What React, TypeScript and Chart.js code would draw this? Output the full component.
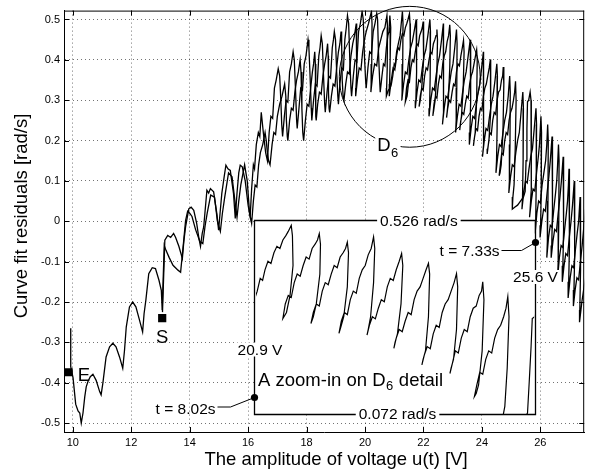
import React, { useEffect, useRef } from 'react';
import { Chart, registerables } from 'chart.js';

Chart.register(...registerables);

type Pt = [number, number];

const xTickValues = [10, 12, 14, 16, 18, 20, 22, 24, 26];
const xTickLabels = ['10', '12', '14', '16', '18', '20', '22', '24', '26'];
const yTickValues = [-0.5, -0.4, -0.3, -0.2, -0.1, 0, 0.1, 0.2, 0.3, 0.4, 0.5];
const yTickLabels = ['-0.5', '-0.4', '-0.3', '-0.2', '-0.1', '0', '0.1', '0.2', '0.3', '0.4', '0.5'];
const xLimits = [9.7, 27.5];
const yLimits = [-0.522, 0.522];
const xTitle = 'The amplitude of voltage u(t) [V]';
const yTitle = 'Curve fit residuals [rad/s]';

// forward pass (starts at S)
const forwardPass: Pt[] = [
  [13.07, -0.225], [13.15, -0.047], [13.25, -0.035], [13.35, -0.04], [13.45, -0.03], [13.52, -0.04], [13.63, -0.062], [13.75, -0.092],
  [13.8, -0.05], [13.86, -0.014], [13.97, 0.031], [14.05, 0.035], [14.14, 0.027], [14.24, -0.005], [14.31, -0.039], [14.37, -0.062],
  [14.43, -0.03], [14.48, -0.014], [14.59, 0.077], [14.65, 0.07], [14.71, 0.081], [14.82, 0.073], [14.93, 0.019], [14.99, -0.022],
  [15.04, 0.02], [15.1, 0.069], [15.18, 0.11], [15.24, 0.139], [15.31, 0.13], [15.39, 0.126], [15.5, 0.069], [15.56, 0.007],
  [15.62, 0.07], [15.68, 0.12], [15.73, 0.139], [15.8, 0.135], [15.9, 0.1], [16.0, 0.04], [16.07, 0.011],
  [16.12, 0.08], [16.18, 0.14], [16.22, 0.13], [16.28, 0.19], [16.35, 0.22], [16.4, 0.21], [16.45, 0.27], [16.52, 0.22], [16.6, 0.17], [16.66, 0.15],
  [16.72, 0.22], [16.78, 0.26], [16.84, 0.255], [16.9, 0.33], [16.96, 0.35], [17.03, 0.378], [17.08, 0.36], [17.12, 0.3], [17.15, 0.24], [17.18, 0.21],
  [17.24, 0.26], [17.3, 0.3], [17.36, 0.295], [17.42, 0.37], [17.48, 0.39], [17.54, 0.42], [17.58, 0.4], [17.62, 0.33], [17.66, 0.25], [17.68, 0.23],
  [17.74, 0.28], [17.8, 0.33], [17.86, 0.325], [17.92, 0.39], [17.98, 0.41], [18.05, 0.45], [18.08, 0.43], [18.12, 0.36], [18.16, 0.28], [18.18, 0.25],
  [18.24, 0.3], [18.3, 0.34], [18.36, 0.335], [18.42, 0.41], [18.46, 0.43], [18.5, 0.46], [18.54, 0.44], [18.58, 0.36], [18.62, 0.29], [18.64, 0.27],
  [18.7, 0.32], [18.76, 0.36], [18.82, 0.355], [18.88, 0.43], [18.92, 0.45], [18.95, 0.47], [18.99, 0.45], [19.03, 0.37], [19.07, 0.31], [19.09, 0.29],
  [19.14, 0.34], [19.2, 0.38], [19.26, 0.375], [19.31, 0.45], [19.36, 0.48], [19.4, 0.51], [19.44, 0.49], [19.48, 0.4], [19.52, 0.33], [19.54, 0.31],
  [19.6, 0.36], [19.66, 0.4], [19.72, 0.395], [19.78, 0.47], [19.84, 0.49], [19.9, 0.52], [19.94, 0.5], [19.98, 0.41], [20.02, 0.35], [20.04, 0.33],
  [20.1, 0.38], [20.16, 0.42], [20.22, 0.415], [20.28, 0.47], [20.34, 0.49], [20.4, 0.515], [20.43, 0.5], [20.46, 0.42], [20.5, 0.35], [20.52, 0.32],
  [20.58, 0.36], [20.63, 0.39], [20.68, 0.385], [20.73, 0.43], [20.78, 0.46], [20.82, 0.47], [20.85, 0.51], [20.88, 0.48], [20.86, 0.4], [20.84, 0.34], [20.83, 0.31],
  [20.9, 0.35], [20.96, 0.38], [21.02, 0.375], [21.08, 0.42], [21.14, 0.44], [21.2, 0.46], [21.24, 0.49], [21.28, 0.52], [21.3, 0.49], [21.29, 0.39], [21.27, 0.32], [21.26, 0.3],
  [21.32, 0.34], [21.38, 0.37], [21.44, 0.365], [21.5, 0.4], [21.56, 0.43], [21.62, 0.445], [21.68, 0.47], [21.75, 0.5], [21.77, 0.47], [21.76, 0.37], [21.74, 0.3], [21.72, 0.28],
  [21.78, 0.32], [21.84, 0.35], [21.9, 0.345], [21.96, 0.38], [22.02, 0.41], [22.08, 0.425], [22.15, 0.46], [22.22, 0.5], [22.24, 0.47], [22.23, 0.36], [22.21, 0.28], [22.19, 0.26],
  [22.25, 0.3], [22.31, 0.33], [22.37, 0.325], [22.43, 0.36], [22.49, 0.39], [22.55, 0.41], [22.62, 0.45], [22.68, 0.49], [22.7, 0.46], [22.69, 0.35], [22.67, 0.27], [22.65, 0.24],
  [22.71, 0.28], [22.77, 0.31], [22.83, 0.305], [22.89, 0.34], [22.95, 0.37], [23.01, 0.39], [23.07, 0.43], [23.13, 0.475], [23.15, 0.44], [23.14, 0.33], [23.12, 0.25], [23.1, 0.22],
  [23.16, 0.26], [23.22, 0.29], [23.28, 0.285], [23.34, 0.32], [23.4, 0.35], [23.46, 0.37], [23.53, 0.41], [23.6, 0.45], [23.62, 0.42], [23.61, 0.3], [23.59, 0.22], [23.57, 0.19],
  [23.63, 0.23], [23.69, 0.26], [23.75, 0.255], [23.81, 0.29], [23.87, 0.32], [23.93, 0.34], [23.99, 0.38], [24.05, 0.42], [24.07, 0.39], [24.06, 0.27], [24.04, 0.19], [24.02, 0.16],
  [24.08, 0.2], [24.14, 0.23], [24.2, 0.225], [24.26, 0.26], [24.32, 0.29], [24.38, 0.31], [24.45, 0.35], [24.51, 0.39], [24.53, 0.36], [24.52, 0.23], [24.5, 0.15], [24.48, 0.12],
  [24.54, 0.16], [24.6, 0.19], [24.66, 0.185], [24.72, 0.22], [24.78, 0.25], [24.84, 0.27], [24.9, 0.31], [24.95, 0.36], [24.97, 0.32], [24.96, 0.19], [24.94, 0.1], [24.92, 0.07],
  [24.98, 0.11], [25.04, 0.14], [25.1, 0.135], [25.16, 0.17], [25.22, 0.2], [25.28, 0.22], [25.34, 0.27], [25.4, 0.32], [25.42, 0.28], [25.41, 0.15], [25.39, 0.06], [25.37, 0.03],
  [25.43, 0.07], [25.49, 0.1], [25.55, 0.095], [25.61, 0.13], [25.67, 0.16], [25.73, 0.18], [25.79, 0.23], [25.85, 0.28], [25.87, 0.24], [25.86, 0.1], [25.84, 0.0], [25.82, -0.03],
  [25.88, 0.02], [25.94, 0.05], [26.0, 0.045], [26.06, 0.09], [26.12, 0.12], [26.18, 0.15], [26.22, 0.19], [26.25, 0.24], [26.27, 0.2], [26.26, 0.05], [26.24, -0.05], [26.22, -0.09],
  [26.28, -0.04], [26.34, -0.01], [26.4, -0.015], [26.46, 0.03], [26.52, 0.07], [26.56, 0.1], [26.59, 0.14], [26.62, 0.19], [26.64, 0.15], [26.63, 0.0], [26.61, -0.1], [26.59, -0.14],
  [26.65, -0.09], [26.71, -0.06], [26.77, -0.065], [26.83, -0.02], [26.89, 0.02], [26.93, 0.05], [26.96, 0.09], [26.98, 0.13], [27.0, 0.09], [26.99, -0.06], [26.97, -0.15], [26.95, -0.19],
  [27.02, -0.14], [27.08, -0.11], [27.14, -0.115], [27.2, -0.07], [27.26, -0.03], [27.31, 0.0], [27.36, 0.06], [27.38, 0.02], [27.37, -0.12], [27.35, -0.22], [27.34, -0.25],
  [27.42, -0.2], [27.5, -0.16], [27.6, -0.12],
];

// return pass, low-voltage part (ends at E)
const returnLow: Pt[] = [
  [9.93, -0.265], [9.93, -0.36], [10.01, -0.388], [10.1, -0.453], [10.18, -0.47], [10.24, -0.475], [10.29, -0.5], [10.35, -0.475], [10.41, -0.435], [10.46, -0.41], [10.52, -0.397],
  [10.6, -0.385], [10.69, -0.379], [10.8, -0.394], [10.92, -0.422], [10.97, -0.43], [11.03, -0.401], [11.14, -0.336], [11.26, -0.311], [11.37, -0.302], [11.48, -0.311], [11.6, -0.336], [11.71, -0.364],
  [11.77, -0.32], [11.83, -0.262], [11.94, -0.212], [12.05, -0.2], [12.16, -0.212], [12.27, -0.241], [12.39, -0.274], [12.44, -0.229], [12.5, -0.196], [12.6, -0.13], [12.72, -0.115], [12.83, -0.117], [12.95, -0.146], [13.03, -0.171], [13.06, -0.22],
  [13.13, -0.06], [13.19, -0.072], [13.3, -0.09], [13.43, -0.109], [13.6, -0.121], [13.69, -0.126], [13.78, -0.06], [13.86, 0.002], [13.93, 0.025], [14.0, 0.02], [14.08, 0.012], [14.2, -0.02], [14.35, -0.05], [14.45, -0.055],
  [14.53, -0.01], [14.6, 0.02], [14.72, 0.065], [14.85, 0.06], [14.95, 0.0], [15.05, -0.025], [15.12, 0.02], [15.2, 0.06], [15.33, 0.12], [15.45, 0.11], [15.55, 0.05], [15.62, 0.01], [15.68, 0.05], [15.75, 0.09], [15.88, 0.14], [15.97, 0.1], [16.05, 0.02], [16.12, -0.005],
  [16.18, 0.05], [16.24, 0.09], [16.3, 0.085], [16.36, 0.14], [16.42, 0.17], [16.5, 0.19], [16.58, 0.22], [16.62, 0.2], [16.66, 0.17], [16.7, 0.15], [16.75, 0.14],
  [16.82, 0.19], [16.88, 0.22], [16.94, 0.215], [17.0, 0.26], [17.08, 0.29], [17.16, 0.31], [17.25, 0.34], [17.29, 0.31], [17.31, 0.25], [17.34, 0.21], [17.36, 0.2],
  [17.42, 0.25], [17.48, 0.28], [17.54, 0.275], [17.6, 0.32], [17.66, 0.35], [17.72, 0.37], [17.78, 0.4], [17.81, 0.37], [17.84, 0.28], [17.87, 0.22], [17.9, 0.2],
  [17.96, 0.25], [18.02, 0.29], [18.08, 0.285], [18.14, 0.33], [18.2, 0.37], [18.24, 0.39], [18.28, 0.42], [18.3, 0.39], [18.31, 0.3], [18.32, 0.26], [18.33, 0.25],
  [18.38, 0.29], [18.44, 0.32], [18.5, 0.315], [18.56, 0.36], [18.62, 0.39], [18.67, 0.41], [18.72, 0.44], [18.74, 0.41], [18.75, 0.32], [18.77, 0.28], [18.79, 0.27],
  [18.85, 0.31], [18.91, 0.34], [18.97, 0.335], [19.03, 0.38], [19.09, 0.42], [19.14, 0.44], [19.18, 0.47], [19.2, 0.44], [19.22, 0.35], [19.25, 0.31], [19.28, 0.3],
  [19.34, 0.34], [19.4, 0.37], [19.46, 0.365], [19.52, 0.41], [19.58, 0.44], [19.64, 0.46], [19.7, 0.49], [19.72, 0.46], [19.71, 0.37], [19.69, 0.33], [19.68, 0.31],
  [19.74, 0.35], [19.8, 0.38], [19.86, 0.375], [19.92, 0.42], [19.98, 0.45], [20.04, 0.47], [20.12, 0.49], [20.22, 0.52], [20.24, 0.49], [20.23, 0.39], [20.21, 0.34], [20.2, 0.32],
  [20.26, 0.36], [20.33, 0.39], [20.4, 0.385], [20.47, 0.43], [20.54, 0.45], [20.61, 0.47], [20.68, 0.48], [20.75, 0.51], [20.77, 0.48], [20.76, 0.38], [20.74, 0.33], [20.73, 0.31],
  [20.8, 0.325], [20.86, 0.33],
];

// return pass, 20.9 V .. 25.6 V (the zoomed-in D6 detail)
const insetTrace: Pt[] = [
  [20.9, 0.339], [20.95, 0.36], [21.0, 0.39], [21.04, 0.385], [21.08, 0.41], [21.13, 0.43], [21.18, 0.425], [21.23, 0.45], [21.28, 0.465], [21.33, 0.46], [21.38, 0.48], [21.43, 0.49], [21.47, 0.5], [21.52, 0.514], [21.54, 0.49], [21.55, 0.42], [21.5, 0.35], [21.44, 0.31], [21.38, 0.296],
  [21.42, 0.33], [21.47, 0.35], [21.52, 0.345], [21.57, 0.38], [21.62, 0.4], [21.67, 0.395], [21.72, 0.42], [21.77, 0.44], [21.82, 0.435], [21.87, 0.46], [21.92, 0.47], [21.96, 0.48], [21.99, 0.495], [22.01, 0.47], [22.0, 0.4], [21.94, 0.33], [21.89, 0.3], [21.85, 0.284],
  [21.89, 0.31], [21.94, 0.33], [21.99, 0.325], [22.04, 0.36], [22.09, 0.38], [22.14, 0.375], [22.19, 0.4], [22.24, 0.42], [22.29, 0.415], [22.34, 0.44], [22.39, 0.45], [22.43, 0.46], [22.46, 0.475], [22.48, 0.45], [22.46, 0.37], [22.4, 0.3], [22.35, 0.275], [22.32, 0.261],
  [22.36, 0.29], [22.41, 0.31], [22.46, 0.305], [22.51, 0.34], [22.56, 0.36], [22.61, 0.355], [22.66, 0.39], [22.71, 0.41], [22.76, 0.42], [22.81, 0.445], [22.86, 0.46], [22.9, 0.487], [22.92, 0.46], [22.9, 0.38], [22.85, 0.3], [22.81, 0.27], [22.79, 0.257],
  [22.83, 0.28], [22.88, 0.3], [22.93, 0.295], [22.98, 0.32], [23.03, 0.34], [23.08, 0.335], [23.13, 0.37], [23.18, 0.39], [23.23, 0.385], [23.28, 0.41], [23.33, 0.43], [23.37, 0.448], [23.39, 0.42], [23.36, 0.33], [23.3, 0.26], [23.26, 0.24], [23.24, 0.226],
  [23.28, 0.25], [23.33, 0.27], [23.38, 0.265], [23.43, 0.29], [23.48, 0.31], [23.53, 0.305], [23.58, 0.34], [23.63, 0.36], [23.68, 0.37], [23.73, 0.39], [23.78, 0.41], [23.82, 0.425], [23.84, 0.4], [23.82, 0.3], [23.77, 0.22], [23.73, 0.2], [23.71, 0.187],
  [23.75, 0.21], [23.8, 0.23], [23.85, 0.225], [23.9, 0.26], [23.95, 0.28], [24.0, 0.275], [24.05, 0.31], [24.1, 0.33], [24.15, 0.34], [24.2, 0.36], [24.25, 0.38], [24.29, 0.401], [24.31, 0.37], [24.29, 0.27], [24.24, 0.2], [24.2, 0.18], [24.18, 0.167],
  [24.22, 0.19], [24.27, 0.22], [24.32, 0.215], [24.37, 0.25], [24.42, 0.27], [24.47, 0.265], [24.52, 0.3], [24.57, 0.32], [24.62, 0.325], [24.67, 0.35], [24.71, 0.36], [24.73, 0.382], [24.75, 0.34], [24.72, 0.22], [24.66, 0.14], [24.62, 0.12], [24.59, 0.113],
  [24.63, 0.14], [24.68, 0.17], [24.73, 0.165], [24.78, 0.2], [24.83, 0.22], [24.88, 0.215], [24.93, 0.25], [24.98, 0.27], [25.03, 0.28], [25.08, 0.3], [25.12, 0.32], [25.15, 0.347], [25.17, 0.3], [25.14, 0.18], [25.1, 0.09], [25.06, 0.06], [25.04, 0.03],
  [25.12, 0.035], [25.22, 0.04], [25.32, 0.05], [25.42, 0.06], [25.48, 0.074], [25.51, 0.15], [25.54, 0.23], [25.56, 0.296], [25.6, 0.3], [25.65, 0.32],
];

// return pass, high-voltage part (turning point beyond the right edge)
const returnHigh: Pt[] = [
  [25.68, 0.3], [25.7, 0.2], [25.68, 0.08], [25.65, 0.03], [25.63, 0.01],
  [25.69, 0.05], [25.75, 0.08], [25.81, 0.075], [25.87, 0.12], [25.93, 0.16], [25.97, 0.19], [26.02, 0.26], [26.04, 0.22], [26.03, 0.08], [26.01, -0.01], [25.99, -0.04],
  [26.05, 0.0], [26.11, 0.03], [26.17, 0.025], [26.23, 0.07], [26.29, 0.11], [26.34, 0.15], [26.4, 0.21], [26.42, 0.17], [26.41, 0.03], [26.39, -0.06], [26.37, -0.09],
  [26.43, -0.05], [26.49, -0.02], [26.55, -0.025], [26.61, 0.02], [26.67, 0.06], [26.72, 0.1], [26.78, 0.16], [26.8, 0.12], [26.79, -0.02], [26.77, -0.11], [26.75, -0.15],
  [26.81, -0.11], [26.87, -0.08], [26.93, -0.085], [26.99, -0.04], [27.05, 0.0], [27.1, 0.04], [27.16, 0.1], [27.18, 0.06], [27.17, -0.08], [27.15, -0.17], [27.13, -0.21],
  [27.19, -0.17], [27.25, -0.14], [27.31, -0.145], [27.37, -0.1], [27.43, -0.06], [27.48, -0.02], [27.54, 0.03], [27.58, 0.0], [27.6, -0.1],
];

const returnPass: Pt[] = [...returnLow, ...insetTrace, ...returnHigh];

const markerNames = ['E', 'S'];
const markerVolt = [9.86, 13.06];
const markerRes = [-0.374, -0.24];

const d6Center: Pt = [21.53, 0.358];
const d6RadiusVolt = 2.41;

const insetVolt = [20.9, 25.6];
const insetRes = [0.072, 0.526];
const insetTimes = ['t = 8.02s', 't = 7.33s'];

// layout geometry (pixels)
const AREA = { left: 64, right: 589, top: 10, bottom: 432 };
const BOX = { left: 256, right: 539, top: 220, bottom: 414 };

const pxPerV = (BOX.right - BOX.left) / (insetVolt[1] - insetVolt[0]);
const pxPerR = (BOX.bottom - BOX.top) / (insetRes[1] - insetRes[0]);
const xiMin = insetVolt[0] - (BOX.left - AREA.left) / pxPerV;
const xiMax = insetVolt[1] + (AREA.right - BOX.right) / pxPerV;
const yiMax = insetRes[1] + (BOX.top - AREA.top) / pxPerR;
const yiMin = insetRes[0] - (AREA.bottom - BOX.bottom) / pxPerR;

const FAMILY = '"Liberation Sans", Arial, Helvetica, sans-serif';
const fnt = (s: number) => `${s}px ${FAMILY}`;
const GRID = 'rgba(0,0,0,0.55)';

const toXY = (arr: Pt[]) => arr.map(([x, y]) => ({ x, y }));

function drawText(ctx: CanvasRenderingContext2D, text: string, x: number, y: number, size: number, align: CanvasTextAlign, bg: boolean) {
  ctx.font = fnt(size);
  ctx.textAlign = align;
  ctx.textBaseline = 'alphabetic';
  if (bg) {
    const m = ctx.measureText(text);
    const w = m.width;
    const left = align === 'left' ? x : align === 'right' ? x - w : x - w / 2;
    ctx.fillStyle = '#fff';
    ctx.fillRect(left - 3, y - m.actualBoundingBoxAscent - 2, w + 6, m.actualBoundingBoxAscent + m.actualBoundingBoxDescent + 4);
  }
  ctx.fillStyle = '#000';
  ctx.fillText(text, x, y);
}

const annotate = {
  id: 'annotate',
  beforeDatasetDraw(chart: any, args: any) {
    if (args.index !== 0) return;
    const { ctx } = chart;
    const xi = chart.scales.xi;
    const yi = chart.scales.yi;
    const l = xi.getPixelForValue(insetVolt[0]);
    const r = xi.getPixelForValue(insetVolt[1]);
    const t = yi.getPixelForValue(insetRes[1]);
    const b = yi.getPixelForValue(insetRes[0]);
    ctx.save();
    ctx.fillStyle = '#fff';
    ctx.fillRect(l, t, r - l, b - t);
    ctx.restore();
  },
  afterDatasetsDraw(chart: any) {
    const { ctx } = chart;
    const x = chart.scales.x;
    const y = chart.scales.y;
    const xi = chart.scales.xi;
    const yi = chart.scales.yi;
    const L = Math.round(xi.getPixelForValue(insetVolt[0])) + 0.5;
    const R = Math.round(xi.getPixelForValue(insetVolt[1])) + 0.5;
    const T = Math.round(yi.getPixelForValue(insetRes[1])) + 0.5;
    const B = Math.round(yi.getPixelForValue(insetRes[0])) + 0.5;
    ctx.save();
    ctx.strokeStyle = '#000';
    ctx.lineWidth = 1.3;
    ctx.beginPath();
    ctx.rect(L, T, R - L, B - T);
    ctx.stroke();

    drawText(ctx, `${insetRes[1]} rad/s`, L + (R - L) * 0.585, T + 5.5, 15.5, 'center', true);
    drawText(ctx, `${insetRes[0]} rad/s`, L + (R - L) * 0.509, B + 4.5, 15.5, 'center', true);
    drawText(ctx, `${insetVolt[0]} V`, L + 5.5, B - 60, 15.5, 'center', true);
    drawText(ctx, `${insetVolt[1]} V`, R, T + 61.5, 15.5, 'center', true);

    // t = 7.33s connector
    drawText(ctx, insetTimes[1], R - 36, T + 35, 15.5, 'right', false);
    ctx.lineWidth = 1;
    ctx.beginPath();
    ctx.moveTo(R - 34, T + 30);
    ctx.lineTo(R - 14, T + 30);
    ctx.lineTo(R, T + 22);
    ctx.stroke();
    ctx.fillStyle = '#000';
    ctx.beginPath();
    ctx.arc(R, T + 22, 3.6, 0, Math.PI * 2);
    ctx.fill();

    // t = 8.02s connector
    drawText(ctx, insetTimes[0], L - 39, B - 1, 15.5, 'right', false);
    ctx.beginPath();
    ctx.moveTo(L - 37, B - 7.5);
    ctx.lineTo(L - 24, B - 7.5);
    ctx.lineTo(L, B - 17);
    ctx.stroke();
    ctx.fillStyle = '#000';
    ctx.beginPath();
    ctx.arc(L, B - 17, 3.6, 0, Math.PI * 2);
    ctx.fill();

    // A zoom-in on D6 detail
    {
      const bx = L + 3.5;
      const by = B - 29;
      const p1 = 'A zoom-in on D';
      drawText(ctx, p1, bx, by, 18.5, 'left', false);
      ctx.font = fnt(18.5);
      const w1 = ctx.measureText(p1).width;
      drawText(ctx, '6', bx + w1 + 0.5, by + 4, 13, 'left', false);
      ctx.font = fnt(13);
      const w2 = ctx.measureText('6').width;
      drawText(ctx, ' detail', bx + w1 + w2 + 1, by, 18.5, 'left', false);
    }

    // D6 circle
    const cx = x.getPixelForValue(d6Center[0]);
    const cy = y.getPixelForValue(d6Center[1]);
    const rad = x.getPixelForValue(d6Center[0] + d6RadiusVolt) - cx;
    ctx.strokeStyle = '#000';
    ctx.lineWidth = 1;
    ctx.beginPath();
    ctx.arc(cx, cy, rad, 0, Math.PI * 2);
    ctx.stroke();
    {
      const dx = cx - 32.5;
      const dy = cy + 74.5;
      ctx.font = fnt(18.5);
      const wd = ctx.measureText('D').width;
      ctx.fillStyle = '#fff';
      ctx.fillRect(dx - 2, dy - 16, wd + 12, 22);
      drawText(ctx, 'D', dx, dy, 18.5, 'left', false);
      drawText(ctx, '6', dx + wd + 0.5, dy + 5.5, 13, 'left', false);
    }

    // E and S labels
    {
      const ex = x.getPixelForValue(markerVolt[0]);
      const ey = y.getPixelForValue(markerRes[0]);
      drawText(ctx, markerNames[0], ex + 9, ey + 8.5, 18.5, 'left', false);
      const sx = x.getPixelForValue(markerVolt[1]);
      const sy = y.getPixelForValue(markerRes[1]);
      drawText(ctx, markerNames[1], sx, sy + 24.5, 18.5, 'center', false);
    }
    ctx.restore();
  },
  afterDraw(chart: any) {
    const { ctx, chartArea } = chart;
    const x = chart.scales.x;
    const y = chart.scales.y;
    const { left, right, top, bottom } = chartArea;
    ctx.save();
    ctx.strokeStyle = '#000';
    ctx.lineWidth = 1;
    ctx.beginPath();
    ctx.moveTo(left, top + 0.5);
    ctx.lineTo(right, top + 0.5);
    ctx.moveTo(right - 0.5, top);
    ctx.lineTo(right - 0.5, bottom);
    for (const v of xTickValues) {
      const px = Math.round(x.getPixelForValue(v)) + 0.5;
      ctx.moveTo(px, bottom);
      ctx.lineTo(px, bottom - 5);
      ctx.moveTo(px, top);
      ctx.lineTo(px, top + 5);
    }
    for (const v of yTickValues) {
      const py = Math.round(y.getPixelForValue(v)) + 0.5;
      ctx.moveTo(left, py);
      ctx.lineTo(left + 5, py);
      ctx.moveTo(right, py);
      ctx.lineTo(right - 5, py);
    }
    ctx.stroke();

    // axis titles
    drawText(ctx, xTitle, 336, 465, 18.5, 'center', false);
    ctx.translate(26.7, 216);
    ctx.rotate(-Math.PI / 2);
    drawText(ctx, yTitle, 0, 0, 18.5, 'center', false);
    ctx.restore();
  },
};

export default function App() {
  const ref = useRef<HTMLCanvasElement>(null);
  useEffect(() => {
    const canvas = ref.current;
    if (!canvas) return;
    const chart = new Chart(canvas, {
      type: 'line',
      data: {
        datasets: [
          {
            label: 'zoom-in on D6',
            data: toXY(insetTrace),
            xAxisID: 'xi',
            yAxisID: 'yi',
            borderColor: '#000',
            borderWidth: 1.2,
            pointRadius: 0,
            tension: 0,
            fill: false,
            order: 0,
            clip: {
              left: -(BOX.left - AREA.left),
              top: -(BOX.top - AREA.top),
              right: -(AREA.right - BOX.right),
              bottom: -(AREA.bottom - BOX.bottom),
            } as any,
          },
          {
            label: 'forward',
            data: toXY(forwardPass),
            xAxisID: 'x',
            yAxisID: 'y',
            borderColor: '#000',
            borderWidth: 1.3,
            pointRadius: 0,
            tension: 0,
            fill: false,
            order: 1,
          },
          {
            label: 'return',
            data: toXY(returnPass),
            xAxisID: 'x',
            yAxisID: 'y',
            borderColor: '#000',
            borderWidth: 1.3,
            pointRadius: 0,
            tension: 0,
            fill: false,
            order: 1,
          },
          {
            label: 'markers',
            data: markerVolt.map((v, i) => ({ x: v, y: markerRes[i] })),
            xAxisID: 'x',
            yAxisID: 'y',
            showLine: false,
            pointStyle: 'rect',
            pointRadius: 5.8,
            backgroundColor: '#000',
            borderColor: '#000',
            borderWidth: 0,
            order: 0,
          },
        ],
      },
      options: {
        responsive: false,
        maintainAspectRatio: false,
        animation: false,
        devicePixelRatio: 1,
        events: [],
        layout: { padding: { left: 0, top: AREA.top, right: 590 - AREA.right, bottom: 0 } },
        plugins: { legend: { display: false }, tooltip: { enabled: false } },
        scales: {
          x: {
            type: 'linear',
            position: 'bottom',
            min: xLimits[0],
            max: xLimits[1],
            afterBuildTicks: (s: any) => {
              s.ticks = xTickValues.map((v) => ({ value: v }));
            },
            afterFit: (s: any) => {
              s.height = 476 - AREA.bottom;
            },
            ticks: {
              callback: (_v: any, i: number) => xTickLabels[i],
              font: { family: FAMILY, size: 11 },
              color: '#000',
              padding: 4,
              maxRotation: 0,
              autoSkip: false,
            },
            grid: { color: GRID, lineWidth: 1, drawTicks: false },
            border: { display: true, color: '#000', width: 1, dash: [1, 3] },
            title: { display: false },
          },
          y: {
            type: 'linear',
            position: 'left',
            min: yLimits[0],
            max: yLimits[1],
            afterBuildTicks: (s: any) => {
              s.ticks = yTickValues.map((v) => ({ value: v }));
            },
            afterFit: (s: any) => {
              s.width = AREA.left;
            },
            ticks: {
              callback: (_v: any, i: number) => yTickLabels[i],
              font: { family: FAMILY, size: 11 },
              color: '#000',
              padding: 4,
              autoSkip: false,
            },
            grid: { color: GRID, lineWidth: 1, drawTicks: false },
            border: { display: true, color: '#000', width: 1, dash: [1, 3] },
            title: { display: false },
          },
          xi: { type: 'linear', display: false, position: 'top', min: xiMin, max: xiMax },
          yi: { type: 'linear', display: false, position: 'right', min: yiMin, max: yiMax },
        },
      } as any,
      plugins: [annotate],
    });
    return () => chart.destroy();
  }, []);
  return (
    <div style={{ position: 'fixed', left: 0, top: 0, width: 590, height: 476, background: '#fff' }}>
      <canvas ref={ref} width={590} height={476} style={{ display: 'block', width: 590, height: 476 }} />
    </div>
  );
}
